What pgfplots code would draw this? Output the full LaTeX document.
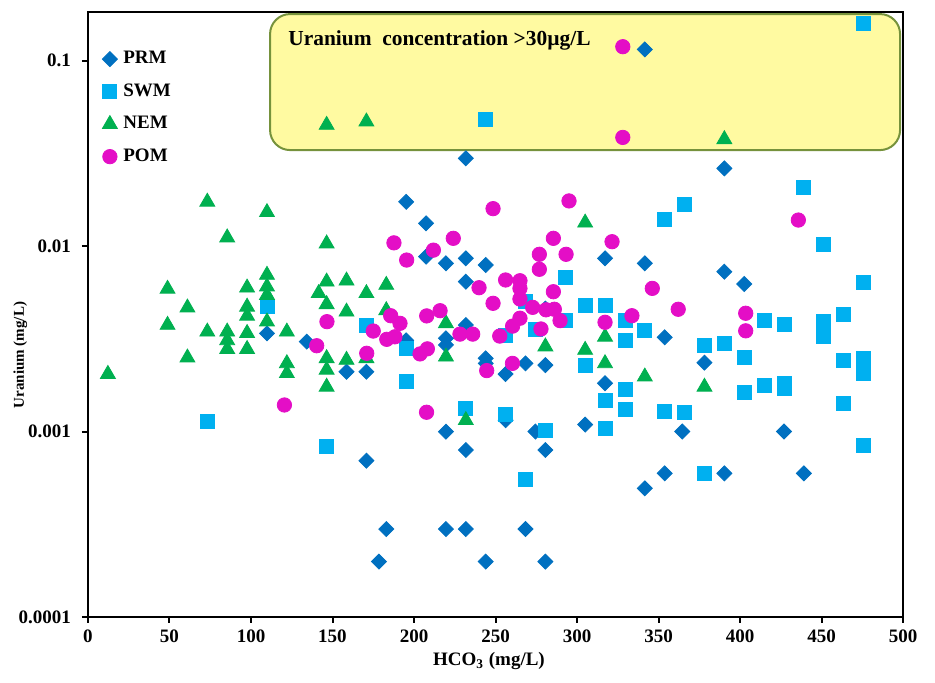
\documentclass[border=0pt]{standalone}
\usepackage{fontspec}
\setmainfont{Liberation Serif}
\usepackage{pgfplots}
\pgfplotsset{compat=1.18}

\definecolor{prm}{RGB}{0,112,192}
\definecolor{swm}{RGB}{0,176,240}
\definecolor{nem}{RGB}{0,176,80}
\definecolor{pom}{RGB}{228,14,198}
\definecolor{boxline}{RGB}{118,146,60}

\begin{document}
\begin{tikzpicture}[x=1pt,y=1pt]
\path[use as bounding box] (-44,-33) rectangle (423.5,308.5);
\begin{axis}[
  scale only axis,
  width=407.5pt, height=302.5pt,
  xmin=0, xmax=500,
  ymode=log, ymin=1e-4, ymax=0.1826,
  xtick={0,50,...,500},
  ytick={0.0001,0.001,0.01,0.1},
  yticklabels={0.0001,0.001,0.01,0.1},
  yminorticks=false,
  tick pos=left,
  tick align=outside,
  major tick length=3pt,
  tick style={black, line width=1pt},
  axis line style={black, line width=0.8pt},
  /pgf/number format/assume math mode=true,
  ticklabel style={font=\fontsize{9.5}{11}\selectfont\bfseries},
  yticklabel style={xshift=-2pt},
  xlabel={HCO\textsubscript{3} (mg/L)},
  ylabel={Uranium (mg/L)},
  every axis x label/.style={at={(axis description cs:0.492,-0.073)}, anchor=center,
    font=\fontsize{9.5}{11}\selectfont\bfseries},
  every axis y label/.style={at={(axis description cs:-0.083,0.433)}, anchor=center, rotate=90,
    font=\fontsize{7.5}{9}\selectfont\bfseries},
  legend image code/.code={\draw[mark repeat=2,mark phase=2,#1] plot coordinates {(0pt,0pt)(6pt,0pt)(12pt,0pt)};},
  legend style={at={(axis description cs:0,1)}, anchor=north west, xshift=7pt, yshift=-17.5pt,
    draw=none, fill=none, inner sep=0pt, row sep=4.5pt,
    font=\fontsize{9.5}{11}\selectfont\bfseries,
    nodes={inner xsep=3pt}},
  legend cell align=left,
]

% PRM: HCO3 (mg/L) vs U (mg/L)
\addplot[only marks, mark=square*, mark size=2.65pt, color=prm, mark options={rotate=45}] table {
x y
195.2 0.0173
207.4 0.01325
207.4 0.00876
219.6 0.00807
231.8 0.0297
231.8 0.00858
231.8 0.00642
244.0 0.0079
231.8 0.00375
219.6 0.00318
219.6 0.00293
195.2 0.0031
244.0 0.00248
244.0 0.00233
268.4 0.00233
280.6 0.00228
256.2 0.00204
170.8 0.0021
158.6 0.0021
317.2 0.00182
317.2 0.00858
280.6 0.0046
109.8 0.00338
134.2 0.00305
341.6 0.00807
390.4 0.0262
390.4 0.00727
402.6 0.00624
353.8 0.00322
378.2 0.00235
341.6 0.1148
219.6 0.000998
231.8 0.000795
170.8 0.000696
183.0 0.000298
219.6 0.000298
231.8 0.000298
178.5 0.000199
244.0 0.000199
256.2 0.00115
274.5 0.001
280.6 0.000795
268.4 0.000298
280.6 0.000199
305.0 0.00109
364.6 0.001
341.6 0.000494
353.8 0.000595
390.4 0.000595
427.0 0.001
439.2 0.000595
};
\addlegendentry{PRM}

% SWM
\addplot[only marks, mark=square*, mark size=3.5pt, color=swm] table {
x y
109.8 0.00471
73.2 0.00114
146.4 0.000828
170.8 0.00375
195.2 0.00281
195.2 0.00186
231.8 0.00133
256.2 0.00124
268.4 0.000555
280.6 0.00101
244.0 0.0484
292.8 0.00675
268.4 0.0050
292.8 0.00399
305.0 0.00481
317.2 0.0048
274.5 0.00357
256.2 0.0033
305.0 0.00228
329.4 0.00399
329.4 0.0031
329.4 0.00169
329.4 0.00132
317.2 0.00148
317.2 0.00104
341.6 0.00349
353.8 0.01393
366.0 0.0168
439.2 0.0207
451.4 0.01025
475.8 0.00637
414.8 0.00396
427.0 0.0038
451.4 0.00391
451.4 0.00324
463.6 0.00428
378.2 0.0029
390.4 0.00299
402.6 0.00251
463.6 0.00241
475.8 0.00248
475.8 0.00206
402.6 0.00162
414.8 0.00178
427.0 0.00182
427.0 0.00171
463.6 0.00141
353.8 0.00129
366.0 0.00127
378.2 0.000595
475.8 0.000839
475.8 0.1587
};
\addlegendentry{SWM}

% NEM
\addplot[only marks, mark=triangle*, mark size=4.3pt, color=nem] table {
x y
12.2 0.00204
48.8 0.00587
48.8 0.00375
61.0 0.00465
61.0 0.0025
73.2 0.0173
73.2 0.00345
85.4 0.0111
85.4 0.00345
85.4 0.0031
85.4 0.00278
97.6 0.00596
97.6 0.0047
97.6 0.0042
97.6 0.00339
97.6 0.00278
109.8 0.0152
109.8 0.00698
109.8 0.00604
109.8 0.00544
109.8 0.00391
122.0 0.00345
122.0 0.00233
122.0 0.00206
141.5 0.00556
146.4 0.0103
146.4 0.00642
146.4 0.00485
146.4 0.00248
146.4 0.00215
146.4 0.00174
146.4 0.0449
158.6 0.0065
158.6 0.00442
158.6 0.00243
170.8 0.00556
170.8 0.00248
170.8 0.0468
183.0 0.00616
183.0 0.0045
219.6 0.00383
219.6 0.00253
231.8 0.00115
280.6 0.00287
305.0 0.01335
305.0 0.00275
317.2 0.00324
317.2 0.00233
341.6 0.001975
378.2 0.00174
390.4 0.0376
};
\addlegendentry{NEM}

% POM
\addplot[only marks, mark=*, mark size=3.6pt, color=pom] table {
x y
120.5 0.00139
140.3 0.0029
146.6 0.00391
171.0 0.00264
175.0 0.00348
183.3 0.00314
188.3 0.00324
185.7 0.00421
191.4 0.00383
187.7 0.0104
195.5 0.0084
203.7 0.00262
208.2 0.00279
207.7 0.00127
207.8 0.0042
211.9 0.0095
216.0 0.00448
224.1 0.011
228.2 0.00335
236.0 0.00335
239.9 0.00596
244.6 0.00213
248.5 0.0159
248.5 0.00491
252.6 0.00327
256.2 0.00656
260.4 0.00233
260.5 0.0037
265.0 0.0065
265.0 0.00591
265.0 0.00518
265.0 0.00408
272.8 0.00467
276.9 0.00902
276.9 0.00749
277.9 0.00357
281.0 0.00453
285.5 0.011
285.5 0.00567
286.1 0.00456
289.6 0.00396
293.3 0.00902
295.1 0.0175
317.2 0.00388
321.5 0.01055
328.1 0.1187
328.1 0.0385
333.7 0.00421
346.2 0.00591
362.1 0.00456
403.5 0.00434
403.5 0.00349
435.8 0.0138
};
\addlegendentry{POM}

% highlighted band of high concentrations
\draw[boxline, line width=1pt, fill=yellow, fill opacity=0.37, rounded corners=10pt]
  (axis cs:111.7,0.0329) rectangle (axis cs:498.2,0.178);
\node[anchor=west, font=\fontsize{10.7}{12}\selectfont\bfseries, inner sep=0pt]
  at (axis cs:122.7,0.129) {Uranium\ \ concentration >30µg/L};

% heavier left and bottom axis lines
\draw[black, line width=1.5pt] (rel axis cs:0,1) -- (rel axis cs:0,0) -- (rel axis cs:1,0);
\end{axis}
\end{tikzpicture}
\end{document}
